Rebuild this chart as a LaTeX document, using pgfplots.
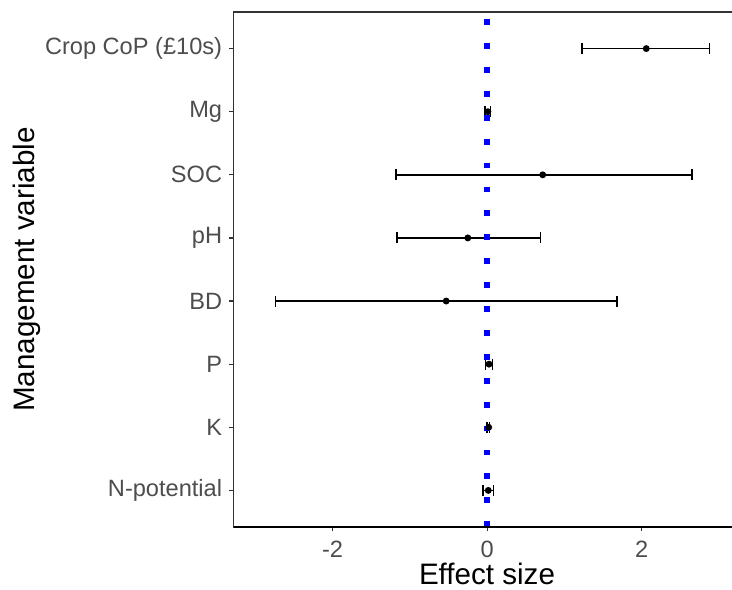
\documentclass[border=0pt]{standalone}
\usepackage{pgfplots}
\pgfplotsset{compat=1.18}
\usepackage{pgfplotstable}
\usepackage{fontspec}
\setmainfont{Liberation Sans}
\definecolor{tickgray}{HTML}{4D4D4D}
\definecolor{linegray}{HTML}{333333}
\pgfplotstableread{
y x ep em
8 2.06 0.82 0.83
7 0.01 0.035 0.04
6 0.72 1.93 1.90
5 -0.25 0.94 0.92
4 -0.53 2.21 2.21
3 0.025 0.045 0.045
2 0.02 0.01 0.02
1 0.015 0.065 0.065
}\datatable
\begin{document}
\begin{tikzpicture}
\useasboundingbox (-116.75pt,-31pt) rectangle (249.25pt,263.5pt);
\begin{axis}[
  scale only axis, width=253.5pt, height=257.5pt,
  xmin=-3.283, xmax=3.28, ymin=0.42, ymax=8.58,
  axis line style={linegray, line width=0.65pt},
  xtick={-2,0,2}, xticklabels={-2,0,2},
  ytick={1,2,3,4,5,6,7,8},
  yticklabels={N-potential,K,P,BD,pH,SOC,Mg,Crop CoP (£10s)},
  tick align=outside, tick pos=left,
  major tick length=2pt,
  tick style={linegray, line width=0.6pt},
  ticklabel style={font=\fontsize{11.8}{13}\selectfont, text=tickgray},
  yticklabel style={inner sep=0pt, xshift=-3.5pt},
  xticklabel style={inner sep=0pt, anchor=base, yshift=-13pt},
  xlabel={Effect size}, ylabel={Management variable},
  label style={font=\fontsize{14.8}{17}\selectfont, text=black},
  xlabel style={at={(axis description cs:0.5,0)}, anchor=base, yshift=-28.5pt},
  ylabel style={at={([xshift=-99.5pt]axis description cs:0,0.5)}, anchor=base},
  clip=false,
]
\addplot[black, line width=0.8pt, only marks, mark=*, mark size=1.3pt,
  error bars/.cd, x dir=both, x explicit,
  error bar style={line width=0.8pt, black},
  error mark options={black, line width=0.8pt, mark size=2.75pt, rotate=90}]
  table[x=x, y=y, x error plus=ep, x error minus=em] {\datatable};
\addplot[blue, line width=3pt, dash pattern=on 2.9pt off 9.05pt] coordinates {(0,0.42) (0,8.58)};
\end{axis}
\draw[black, line width=1.1pt] (0,0) -- (253.5pt,0);
\end{tikzpicture}
\end{document}
